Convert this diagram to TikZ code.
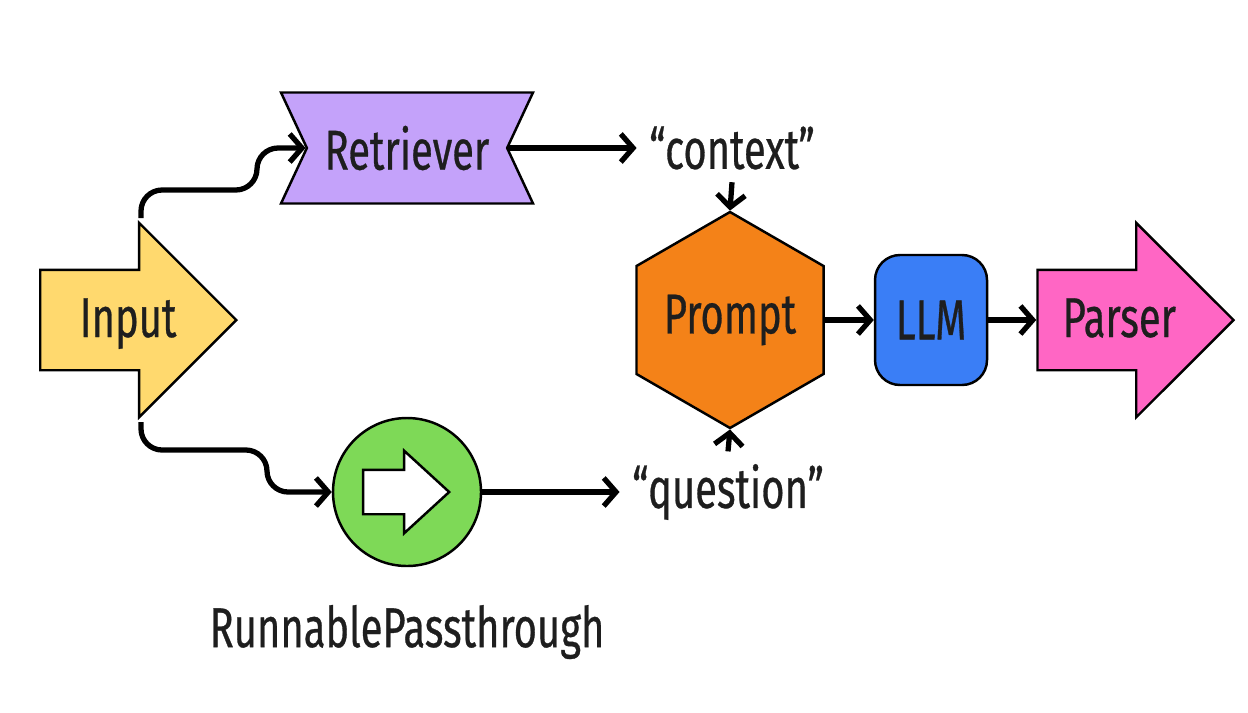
\documentclass[tikz,border=0pt]{standalone}
\usepackage{fontspec}
\setmainfont[FakeStretch=0.71, FakeBold=0.5]{Fira Sans}
\usepackage{xcolor}
\usetikzlibrary{shapes.geometric, shapes.arrows, shapes.symbols, arrows.meta, positioning}
\definecolor{inputyellow}{RGB}{255,217,110}
\definecolor{retrieverviolet}{RGB}{196,162,250}
\definecolor{promptorange}{RGB}{244,130,24}
\definecolor{llmblue}{RGB}{58,126,246}
\definecolor{parserpink}{RGB}{255,102,196}
\definecolor{passgreen}{RGB}{126,217,87}
\definecolor{inkgray}{RGB}{30,30,30}
\tikzstyle{flowarrow} = [single arrow, draw, line width=0.7pt, minimum height=1.96cm, minimum width=1.92cm, single arrow head extend=0.47cm, single arrow tip angle=90, inner sep=0pt, text height=0.66cm, text depth=0.32cm]
\tikzstyle{retrieverbox} = [signal, draw, line width=0.7pt, fill=retrieverviolet, signal from=west and east, signal to=nowhere, signal pointer angle=130, minimum width=2.52cm, minimum height=1.11cm, inner sep=0pt]
\tikzstyle{promptbox} = [regular polygon, regular polygon sides=6, shape border rotate=90, draw, line width=0.7pt, fill=promptorange, minimum size=2.14cm, inner sep=0pt]
\tikzstyle{llmbox} = [rectangle, draw, line width=0.7pt, fill=llmblue, rounded corners=0.25cm, minimum width=1.12cm, minimum height=1.30cm]
\tikzstyle{passcircle} = [circle, draw, line width=0.7pt, fill=passgreen, minimum size=1.48cm]
\tikzstyle{plaintext} = [inner sep=0.12cm]
\tikzstyle{arrow} = [-{Straight Barb[length=3.5pt, width=8pt]}, line width=1.5pt]

\begin{document}
\begin{tikzpicture}[font=\fontsize{16}{18}\selectfont, text=inkgray]
\useasboundingbox (0,0) rectangle (12.48,7.12);

% Input and the two branches
\node[flowarrow, fill=inputyellow, anchor=tip] (input) at (2.38,3.92) {\hspace*{0.3cm}Input};
\node[retrieverbox] (retriever) at (4.07,5.64) {Retriever};
\node[passcircle] (pass) at (4.07,2.20) {};
\node[flowarrow, fill=white, anchor=tip, minimum height=0.86cm, minimum width=0.80cm, single arrow head extend=0.19cm, single arrow tip angle=85, text height=0.42cm, text depth=0pt] (passicon) at ([xshift=0.44cm]pass.center) {};
\node[plaintext] (passname) at (4.07,0.80) {RunnablePassthrough};

% Prompt inputs
\node[plaintext] (context) at (7.32,5.64) {“context”};
\node[plaintext] (question) at (7.28,2.20) {“question”};

% Main chain
\node[promptbox] (prompt) at (7.30,3.92) {Prompt};
\node[llmbox, right=0.49cm of prompt] (llm) {LLM};
\node[flowarrow, fill=parserpink, right=0.48cm of llm] (parser) {\hspace*{0.18cm}Parser};

% Branch arrows
\draw[arrow, rounded corners=6pt] ([shift={(-0.97,1.02)}]input.tip) -- ++(0,0.28) -- ++(1.16,0) |- (retriever.west);
\draw[arrow, rounded corners=6pt] ([shift={(-0.97,-1.02)}]input.tip) -- ++(0,-0.28) -- ++(1.26,0) |- (pass.west);
\draw[arrow] (retriever.east) -- (context.west);
\draw[arrow] (pass.east) -- (question.west);

% Into the prompt and on
\draw[arrow] (context.south) -- (prompt.north);
\draw[arrow] (question.north) -- (prompt.south);
\draw[arrow] (prompt.east) -- (llm.west);
\draw[arrow] (llm.east) -- (parser.west);

\end{tikzpicture}
\end{document}
